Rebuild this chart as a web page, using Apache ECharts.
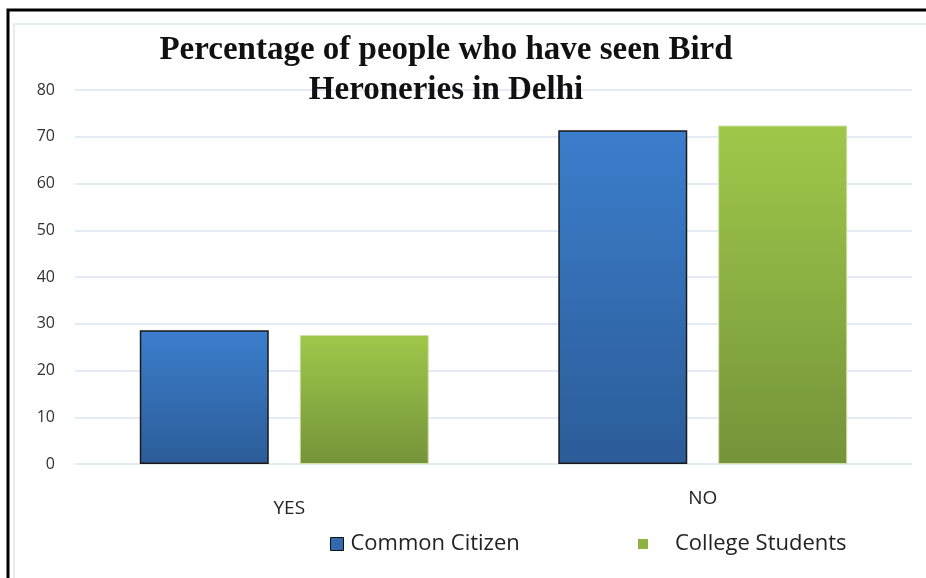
<!DOCTYPE html>
<html>
<head>
<meta charset="utf-8">
<script src="https://cdn.jsdelivr.net/npm/echarts@6/dist/echarts.min.js"></script>
<style>
html, body { margin: 0; padding: 0; background: #fff; }
#container { width: 926px; height: 578px; }
</style>
</head>
<body>
<div id="container"></div>
<script>
var categories = ['YES', 'NO'];                 // x轴类别
var seriesNames = ['Common Citizen', 'College Students'];
var commonCitizen = [28.6, 71.4];               // 蓝色柱
var collegeStudents = [27.6, 72.4];             // 绿色柱
var yTicks = [0, 10, 20, 30, 40, 50, 60, 70, 80];

var dom = document.getElementById('container');
var myChart = echarts.init(dom);

function grad(top, bottom) {
	return new echarts.graphic.LinearGradient(0, 0, 0, 1, [
		{ offset: 0, color: top },
		{ offset: 1, color: bottom }
	]);
}

var labelFont = 'Open Sans';

var option = {
	animation: false,
	title: {
		text: 'Percentage of people who have seen Bird\nHeroneries in Delhi',
		left: 441,
		textAlign: 'center',
		top: 25,
		textStyle: {
			fontFamily: 'Liberation Serif',
			fontWeight: 'bold',
			fontSize: 33,
			lineHeight: 40,
			color: '#111'
		}
	},
	graphic: [
		{ type: 'rect', shape: { x: 14, y: 24, width: 940, height: 600 }, style: { fill: 'none', stroke: '#dde6f2', lineWidth: 1.5 }, z: -1 },
		{ type: 'rect', shape: { x: 8, y: 10, width: 940, height: 600 }, style: { fill: 'none', stroke: '#000', lineWidth: 3 }, z: -1 }
	],
	legend: [
		{
			top: 528,
			left: 325,
			itemWidth: 13,
			itemHeight: 13,
			textStyle: { fontFamily: labelFont, fontSize: 22, color: '#222', padding: [0, 0, 0, 2] },
			data: [{ name: seriesNames[0], icon: 'rect', itemStyle: { color: '#3569ad', borderColor: '#111', borderWidth: 1 } }]
		},
		{
			top: 528,
			left: 633,
			itemWidth: 10,
			itemHeight: 10,
			textStyle: { fontFamily: labelFont, fontSize: 22, color: '#222', padding: [0, 0, 0, 22] },
			data: [{ name: seriesNames[1], icon: 'rect', itemStyle: { color: '#8db043', borderWidth: 0 } }]
		}
	],
	grid: { left: 75, right: 14, top: 90, bottom: 114 },
	xAxis: {
		type: 'category',
		data: [
			{ value: categories[0], textStyle: { padding: [10, 0, 0, 10] } },
			{ value: categories[1], textStyle: { padding: [0, 0, 0, 0] } }
		],
		axisLine: { show: false },
		axisTick: { show: false },
		axisLabel: { fontFamily: labelFont, fontSize: 19, color: '#222', margin: 25 }
	},
	yAxis: {
		type: 'value',
		min: yTicks[0],
		max: yTicks[yTicks.length - 1],
		interval: 10,
		axisLine: { show: false },
		axisTick: { show: false },
		axisLabel: { fontFamily: labelFont, fontSize: 16, color: '#333', margin: 20 },
		splitLine: { lineStyle: { color: '#dbe5f1', width: 1.5 } }
	},
	series: [
		{
			name: seriesNames[0],
			type: 'bar',
			data: commonCitizen,
			barWidth: 129,
			barGap: '24%',
			itemStyle: { color: grad('#3b7ecc', '#2c5c98'), borderColor: '#1a1a1a', borderWidth: 1.5 }
		},
		{
			name: seriesNames[1],
			type: 'bar',
			data: collegeStudents,
			barWidth: 129,
			itemStyle: { color: grad('#9fc84a', '#75933a'), borderColor: '#cfe0a8', borderWidth: 1 }
		}
	]
};
myChart.setOption(option);
</script>
</body>
</html>
